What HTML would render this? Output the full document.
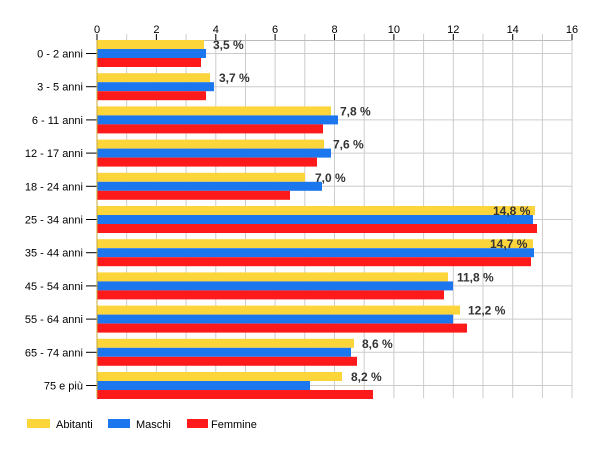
<!DOCTYPE html><html><head><style>body{margin:0;background:#fff}svg{font-family:"Liberation Sans",sans-serif}</style></head><body>
<svg width="600" height="450" xmlns="http://www.w3.org/2000/svg">
<g stroke="#ccc" stroke-width="1">
<line x1="126.7" y1="34" x2="126.7" y2="398"/><line x1="156.4" y1="34" x2="156.4" y2="398"/><line x1="186.1" y1="34" x2="186.1" y2="398"/><line x1="215.8" y1="34" x2="215.8" y2="398"/><line x1="245.5" y1="34" x2="245.5" y2="398"/><line x1="275.1" y1="34" x2="275.1" y2="398"/><line x1="304.8" y1="34" x2="304.8" y2="398"/><line x1="334.5" y1="34" x2="334.5" y2="398"/><line x1="364.2" y1="34" x2="364.2" y2="398"/><line x1="393.9" y1="34" x2="393.9" y2="398"/><line x1="423.6" y1="34" x2="423.6" y2="398"/><line x1="453.3" y1="34" x2="453.3" y2="398"/><line x1="483" y1="34" x2="483" y2="398"/><line x1="512.7" y1="34" x2="512.7" y2="398"/><line x1="542.4" y1="34" x2="542.4" y2="398"/><line x1="572" y1="34" x2="572" y2="398"/>
<line x1="97" y1="53.5" x2="572" y2="53.5"/><line x1="97" y1="86.7" x2="572" y2="86.7"/><line x1="97" y1="119.9" x2="572" y2="119.9"/><line x1="97" y1="153.1" x2="572" y2="153.1"/><line x1="97" y1="186.3" x2="572" y2="186.3"/><line x1="97" y1="219.5" x2="572" y2="219.5"/><line x1="97" y1="252.7" x2="572" y2="252.7"/><line x1="97" y1="285.9" x2="572" y2="285.9"/><line x1="97" y1="319.1" x2="572" y2="319.1"/><line x1="97" y1="352.3" x2="572" y2="352.3"/><line x1="97" y1="385.5" x2="572" y2="385.5"/>
</g>
<line x1="97" y1="40.5" x2="572" y2="40.5" stroke="#bbb"/>
<g font-size="11" fill="#000" text-anchor="middle">
<text x="97" y="33">0</text><text x="156.4" y="33">2</text><text x="215.8" y="33">4</text><text x="275.1" y="33">6</text><text x="334.5" y="33">8</text><text x="393.9" y="33">10</text><text x="453.3" y="33">12</text><text x="512.7" y="33">14</text><text x="572" y="33">16</text>
</g>
<g stroke="#000"><line x1="97" y1="34" x2="97" y2="40"/><line x1="156.4" y1="34" x2="156.4" y2="40"/><line x1="215.8" y1="34" x2="215.8" y2="40"/><line x1="275.1" y1="34" x2="275.1" y2="40"/><line x1="334.5" y1="34" x2="334.5" y2="40"/><line x1="393.9" y1="34" x2="393.9" y2="40"/><line x1="453.3" y1="34" x2="453.3" y2="40"/><line x1="512.7" y1="34" x2="512.7" y2="40"/><line x1="572" y1="34" x2="572" y2="40"/>
<line x1="86" y1="53.5" x2="97" y2="53.5"/><line x1="86" y1="86.7" x2="97" y2="86.7"/><line x1="86" y1="119.9" x2="97" y2="119.9"/><line x1="86" y1="153.1" x2="97" y2="153.1"/><line x1="86" y1="186.3" x2="97" y2="186.3"/><line x1="86" y1="219.5" x2="97" y2="219.5"/><line x1="86" y1="252.7" x2="97" y2="252.7"/><line x1="86" y1="285.9" x2="97" y2="285.9"/><line x1="86" y1="319.1" x2="97" y2="319.1"/><line x1="86" y1="352.3" x2="97" y2="352.3"/><line x1="86" y1="385.5" x2="97" y2="385.5"/></g>
<g fill="#fcd53b">
<rect x="97" y="40" width="107" height="9"/><rect x="97" y="73.2" width="113" height="9"/><rect x="97" y="106.4" width="234" height="9"/><rect x="97" y="139.6" width="227" height="9"/><rect x="97" y="172.8" width="208" height="9"/><rect x="97" y="206" width="438" height="9"/><rect x="97" y="239.2" width="436" height="9"/><rect x="97" y="272.4" width="351" height="9"/><rect x="97" y="305.6" width="363" height="9"/><rect x="97" y="338.8" width="257" height="9"/><rect x="97" y="372" width="245" height="9"/>
</g>
<g fill="#1c76ee">
<rect x="97" y="49" width="109" height="9"/><rect x="97" y="82.2" width="117" height="9"/><rect x="97" y="115.4" width="241" height="9"/><rect x="97" y="148.6" width="234" height="9"/><rect x="97" y="181.8" width="225" height="9"/><rect x="97" y="215" width="436" height="9"/><rect x="97" y="248.2" width="437" height="9"/><rect x="97" y="281.4" width="356" height="9"/><rect x="97" y="314.6" width="356" height="9"/><rect x="97" y="347.8" width="254" height="9"/><rect x="97" y="381" width="213" height="9"/>
</g>
<g fill="#fe1a1a">
<rect x="97" y="58" width="104" height="9"/><rect x="97" y="91.2" width="109" height="9"/><rect x="97" y="124.4" width="226" height="9"/><rect x="97" y="157.6" width="220" height="9"/><rect x="97" y="190.8" width="193" height="9"/><rect x="97" y="224" width="440" height="9"/><rect x="97" y="257.2" width="434" height="9"/><rect x="97" y="290.4" width="347" height="9"/><rect x="97" y="323.6" width="370" height="9"/><rect x="97" y="356.8" width="260" height="9"/><rect x="97" y="390" width="276" height="9"/>
</g>
<line x1="97" y1="40" x2="97" y2="398" stroke="#c9a834"/>
<g font-size="11" text-anchor="end">
<text x="83" y="57.5">0 - 2 anni</text><text x="83" y="90.7">3 - 5 anni</text><text x="83" y="123.9">6 - 11 anni</text><text x="83" y="157.1">12 - 17 anni</text><text x="83" y="190.3">18 - 24 anni</text><text x="83" y="223.5">25 - 34 anni</text><text x="83" y="256.7">35 - 44 anni</text><text x="83" y="289.9">45 - 54 anni</text><text x="83" y="323.1">55 - 64 anni</text><text x="83" y="356.3">65 - 74 anni</text><text x="83" y="389.5">75 e più</text>
</g>
<g font-size="12" font-weight="bold" fill="#333">
<text x="213" y="49">3,5 %</text><text x="219" y="82.2">3,7 %</text><text x="340" y="115.4">7,8 %</text><text x="333" y="148.6">7,6 %</text><text x="315" y="181.8">7,0 %</text><text x="493" y="215">14,8 %</text><text x="490" y="248.2">14,7 %</text><text x="457" y="281.4">11,8 %</text><text x="468" y="314.6">12,2 %</text><text x="362" y="347.8">8,6 %</text><text x="351" y="381">8,2 %</text>
</g>
<g font-size="11">
<rect x="27" y="419" width="23" height="9" fill="#fcd53b"/><text x="56" y="428">Abitanti</text>
<rect x="108" y="419" width="22" height="9" fill="#1c76ee"/><text x="136" y="428">Maschi</text>
<rect x="187" y="419" width="21" height="9" fill="#fe1a1a"/><text x="211" y="428">Femmine</text>
</g>
</svg></body></html>
